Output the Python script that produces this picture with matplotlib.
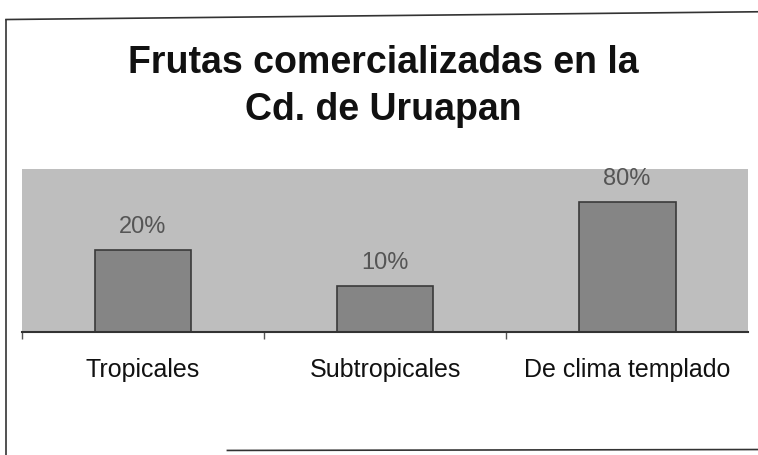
import matplotlib.pyplot as plt
from matplotlib.lines import Line2D

# Datos de la gráfica
categorias = ["Tropicales", "Subtropicales", "De clima templado"]
porcentajes = ["20%", "10%", "80%"]
# Altura visible de cada barra (escala 0-100 del área de trazado)
alturas = [50, 28, 80]

plt.rcParams['font.family'] = ['Liberation Sans', 'DejaVu Sans']

fig = plt.figure(figsize=(7.58, 4.56), dpi=100)
fig.patch.set_facecolor('white')

# Marco escaneado de la diapositiva
fig.add_artist(Line2D([0.008, 0.008], [0.0, 0.955], color='#333333', lw=1.2))
fig.add_artist(Line2D([0.008, 1.0], [0.955, 0.972], color='#333333', lw=1.2))
fig.add_artist(Line2D([0.30, 1.0], [0.01, 0.012], color='#333333', lw=1.2))

# Título
fig.text(0.506, 0.840, "Frutas comercializadas en la", ha='center', va='baseline',
         fontsize=27, fontweight='bold', color='#111111')
fig.text(0.506, 0.737, "Cd. de Uruapan", ha='center', va='baseline',
         fontsize=27, fontweight='bold', color='#111111')

ax = fig.add_axes([0.029, 0.270, 0.958, 0.357])
ax.set_facecolor('#bebebe')

x = range(len(categorias))
barras = ax.bar(x, alturas, width=0.4, color='#858585', edgecolor='#3a3a3a', linewidth=1.2)

for b, et in zip(barras, porcentajes):
    ax.text(b.get_x() + b.get_width() / 2, b.get_height() + 8, et,
            ha='center', va='bottom', fontsize=17, color='#555555')

ax.set_xlim(-0.5, 2.5)
ax.set_ylim(0, 100)
ax.set_yticks([])
ax.set_xticks(list(x))
ax.set_xticklabels(categorias, fontsize=18, color='#111111')
ax.tick_params(axis='x', which='major', length=0, pad=18)
ax.set_xticks([-0.5, 0.5, 1.5], minor=True)
ax.tick_params(axis='x', which='minor', length=5, width=1, color='#555555', direction='out')

for lado in ['top', 'left', 'right']:
    ax.spines[lado].set_visible(False)
ax.spines['bottom'].set_color('#333333')
ax.spines['bottom'].set_linewidth(1.5)

fig.savefig('out.png', dpi=100)
